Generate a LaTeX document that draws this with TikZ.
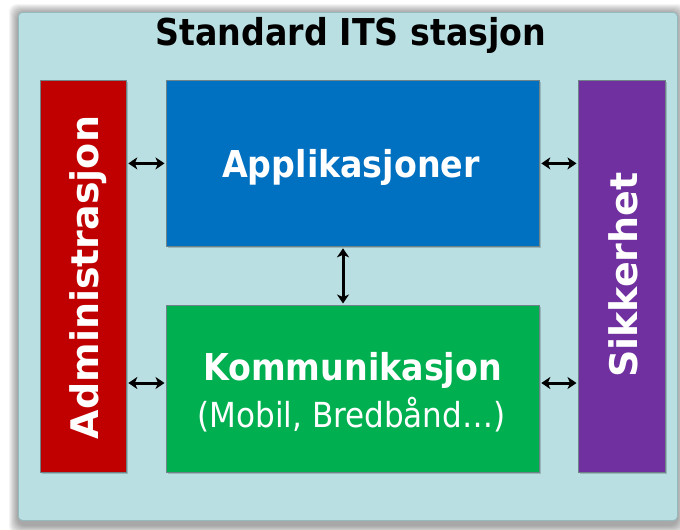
\documentclass[tikz,border=0pt]{standalone}
\usepackage{fontspec}
\setmainfont{DejaVu Sans}
\newfontfamily\condfont{DejaVu Sans Condensed}[BoldFont={DejaVu Sans Condensed Bold}]
\usetikzlibrary{arrows.meta}

\definecolor{panelcyan}{RGB}{185,223,226}
\definecolor{panelrim}{RGB}{150,185,190}
\definecolor{adminred}{RGB}{192,0,0}
\definecolor{appblue}{RGB}{0,112,192}
\definecolor{komgreen}{RGB}{0,176,80}
\definecolor{sikpurple}{RGB}{112,48,160}
\definecolor{boxrim}{RGB}{110,130,135}

\tikzset{
  block/.style={anchor=north west, inner sep=0pt, draw=boxrim, line width=0.8pt,
    preaction={fill=black, opacity=0.18, transform canvas={xshift=1.5pt, yshift=-2pt}}},
  boxtext/.style={text=white, font=\condfont\bfseries\fontsize{37}{40}\selectfont, anchor=base, inner sep=0pt},
  sidetext/.style={text=white, font=\bfseries\fontsize{38}{40}\selectfont, anchor=base, inner sep=0pt, rotate=90},
  subtext/.style={text=white, font=\condfont\fontsize{34.5}{38}\selectfont, anchor=base, inner sep=0pt},
  link/.style={arrows={Stealth[length=9pt,width=12pt,inset=2.5pt]-Stealth[length=9pt,width=12pt,inset=2.5pt]},
    draw=black, line width=3pt, shorten <=1.5pt, shorten >=1.5pt}
}

\begin{document}
\begin{tikzpicture}[x=1pt,y=-1pt]
\useasboundingbox (0,0) rectangle (680,530);
\fill[white] (0,0) rectangle (680,530);

% soft shadow round the station panel, heavier along the bottom
\foreach \i in {1,...,9}{
  \fill[black, opacity=0.045, rounded corners=8pt] (18-\i,13-\i) rectangle (677+\i,525+\i);
}
\node[anchor=north west, inner sep=0pt, minimum width=659pt, minimum height=508pt,
      fill=panelcyan, draw=panelrim, line width=0.8pt, rounded corners=4pt] (station) at (18,12) {};
\node[font=\condfont\bfseries\fontsize{37}{40}\selectfont, anchor=base, inner sep=0pt] (title) at (351,45) {Standard ITS stasjon};

% building blocks
\node[block, fill=adminred, minimum width=86pt, minimum height=392pt] (admin) at (40,80) {};
\node[block, fill=appblue, minimum width=373pt, minimum height=166pt] (app) at (166,80) {};
\node[block, fill=komgreen, minimum width=373pt, minimum height=167pt] (kom) at (166,305) {};
\node[block, fill=sikpurple, minimum width=87pt, minimum height=392pt] (sik) at (578,80) {};

% labels
\node[sidetext] (admintext) at (98,277.5) {Administrasjon};
\node[sidetext] (siktext) at (637,275) {Sikkerhet};
\node[boxtext] (apptext) at (351,177) {Applikasjoner};
\node[boxtext] (komtext) at (352.5,380) {Kommunikasjon};
\node[subtext] (komsub) at (351.5,427) {(Mobil, Bredbånd…)};

% connectors
\coordinate (lowrow) at (0,383);
\coordinate (midcol) at (343,0);
\draw[link] (admin.east |- app.west) -- (app.west);
\draw[link] (admin.east |- lowrow) -- (kom.west |- lowrow);
\draw[link] (app.east) -- (sik.west |- app.east);
\draw[link] (kom.east |- lowrow) -- (sik.west |- lowrow);
\draw[link] (app.south -| midcol) -- (kom.north -| midcol);
\end{tikzpicture}
\end{document}
